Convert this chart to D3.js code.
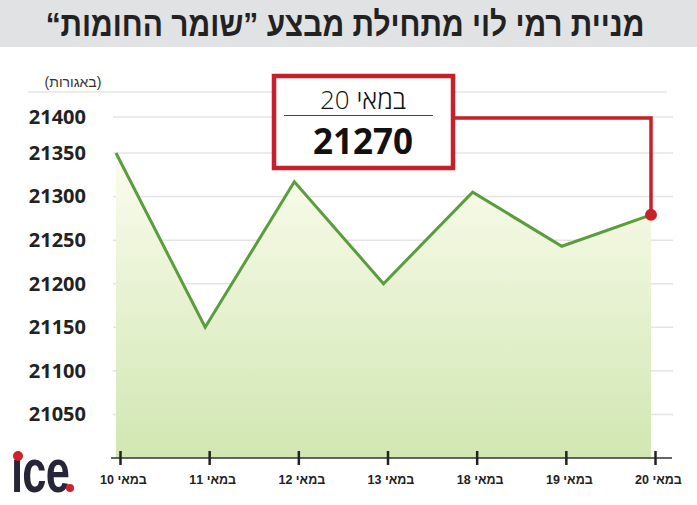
<!DOCTYPE html>
<html>
<head>
<meta charset="utf-8">
<script src="https://cdn.jsdelivr.net/npm/d3@7"></script>
<style>
  body { margin: 0; background: #fff; }
  svg { display: block; }
  text { font-family: "Liberation Sans", "DejaVu Sans", sans-serif; }
</style>
</head>
<body>
<svg width="697" height="505"></svg>
<script>
// data
var dates = ["10 במאי", "11 במאי", "12 במאי", "13 במאי", "18 במאי", "19 במאי", "20 במאי"];
var prices = [21350, 21150, 21317, 21200, 21305, 21243, 21279];
var yTicks = [21050, 21100, 21150, 21200, 21250, 21300, 21350, 21400];

var titleText = "מניית רמי לוי מתחילת מבצע ”שומר החומות“";
var unitText = "(באגורות)";
var calloutDate = "20 במאי";
var calloutValue = "21270";

var svg = d3.select("svg"),
    width = +svg.attr("width"),
    height = +svg.attr("height");

var red = "#c8202a", green = "#5a9d3d";

// scales
var x = d3.scalePoint().domain(dates).range([116, 651]);
var y = d3.scaleLinear().domain([21000, 21350, 21400]).range([458, 153, 117]);

// gradient for the area
var defs = svg.append("defs");
var grad = defs.append("linearGradient")
    .attr("id", "areaFill")
    .attr("x1", 0).attr("y1", 0).attr("x2", 0).attr("y2", 1);
grad.append("stop").attr("offset", "0%").attr("stop-color", "#fbfcee");
grad.append("stop").attr("offset", "100%").attr("stop-color", "#d1e7b2");

// title band
svg.append("rect")
    .attr("x", 0).attr("y", 0)
    .attr("width", width).attr("height", 47)
    .attr("fill", "#e1e2e4");

// condensed look: squeeze the bold face horizontally
svg.append("text")
    .attr("transform", "translate(345,36) scale(0.88,1)")
    .attr("text-anchor", "middle")
    .attr("direction", "rtl")
    .style("font-weight", "bold")
    .style("font-size", "34px")
    .attr("fill", "#222")
    .text(titleText);

// unit label and top rule
svg.append("text")
    .attr("x", 73).attr("y", 87)
    .attr("text-anchor", "middle")
    .style("font-size", "14px")
    .attr("fill", "#333")
    .text(unitText);

svg.append("line")
    .attr("x1", 28).attr("x2", 667)
    .attr("y1", 92).attr("y2", 92)
    .attr("stroke", "#e4e4e4").attr("stroke-width", 1.5);

// gridlines
svg.append("g")
    .selectAll("line")
    .data(yTicks)
    .enter().append("line")
    .attr("x1", 113).attr("x2", 673)
    .attr("y1", function (d) { return y(d); })
    .attr("y2", function (d) { return y(d); })
    .attr("stroke", "#e4e4e4")
    .attr("stroke-width", 1.5);

// y axis labels
var yAxis = svg.append("g")
    .attr("transform", "translate(86,0)")
    .call(d3.axisLeft(y).tickValues(yTicks).tickSize(0).tickPadding(0).tickFormat(d3.format("d")));
yAxis.select(".domain").remove();
yAxis.selectAll("text")
    .style("font-family", "'Open Sans', 'Liberation Sans', sans-serif")
    .style("font-weight", "bold")
    .style("font-size", "20px")
    .attr("fill", "#222");

// area + line
var series = dates.map(function (d, i) { return { date: d, value: prices[i] }; });

var area = d3.area()
    .x(function (d) { return x(d.date); })
    .y0(y(21000))
    .y1(function (d) { return y(d.value); });

var line = d3.line()
    .x(function (d) { return x(d.date); })
    .y(function (d) { return y(d.value); });

svg.append("path")
    .datum(series)
    .attr("d", area)
    .attr("fill", "url(#areaFill)");

svg.append("path")
    .datum(series)
    .attr("d", line)
    .attr("fill", "none")
    .attr("stroke", green)
    .attr("stroke-width", 3)
    .attr("stroke-linejoin", "miter");

// x axis
svg.append("line")
    .attr("x1", 111).attr("x2", 672)
    .attr("y1", y(21000)).attr("y2", y(21000))
    .attr("stroke", "#333").attr("stroke-width", 1.5);

var xAxis = svg.append("g")
    .attr("transform", "translate(0," + y(21000) + ")")
    .call(d3.axisBottom(x).tickSizeInner(7).tickSizeOuter(0).tickPadding(10));
xAxis.select(".domain").remove();
xAxis.selectAll(".tick line")
    .attr("x1", 4).attr("x2", 4)
    .attr("y1", -7).attr("y2", 7)
    .attr("stroke", "#222").attr("stroke-width", 2.5);
xAxis.selectAll(".tick text")
    .attr("dx", 7)
    .style("font-weight", "bold")
    .style("font-size", "12.5px")
    .attr("fill", "#222");

// callout for the last point
var last = series[series.length - 1];

svg.append("path")
    .attr("d", "M455,118H" + x(last.date) + "V" + y(last.value))
    .attr("fill", "none")
    .attr("stroke", red)
    .attr("stroke-width", 3.5);

svg.append("circle")
    .attr("cx", x(last.date)).attr("cy", y(last.value))
    .attr("r", 6)
    .attr("fill", red);

svg.append("rect")
    .attr("x", 274).attr("y", 76)
    .attr("width", 179).attr("height", 92)
    .attr("fill", "#fff")
    .attr("stroke", red)
    .attr("stroke-width", 4.5);

svg.append("text")
    .attr("x", 363).attr("y", 109)
    .attr("text-anchor", "middle")
    .style("font-family", "'Open Sans', 'Liberation Sans', sans-serif")
    .style("font-weight", 300)
    .style("font-size", "26px")
    .attr("fill", "#111")
    .text(calloutDate);

svg.append("line")
    .attr("x1", 284).attr("x2", 433)
    .attr("y1", 115.5).attr("y2", 115.5)
    .attr("stroke", "#444").attr("stroke-width", 1);

svg.append("text")
    .attr("x", 363).attr("y", 154)
    .attr("text-anchor", "middle")
    .style("font-family", "'Open Sans', 'Liberation Sans', sans-serif")
    .style("font-weight", "bold")
    .style("font-size", "35px")
    .attr("fill", "#111")
    .text(calloutValue);

// ice logo
svg.append("text")
    .attr("transform", "translate(11,492) scale(0.7,1)")
    .style("font-weight", "bold")
    .style("font-size", "62px")
    .style("letter-spacing", "-1px")
    .attr("fill", "#272638")
    .text("ıce");
svg.append("circle").attr("cx", 18).attr("cy", 456).attr("r", 5).attr("fill", "#d3202f");
svg.append("circle").attr("cx", 70).attr("cy", 488).attr("r", 4).attr("fill", "#d3202f");
</script>
</body>
</html>
